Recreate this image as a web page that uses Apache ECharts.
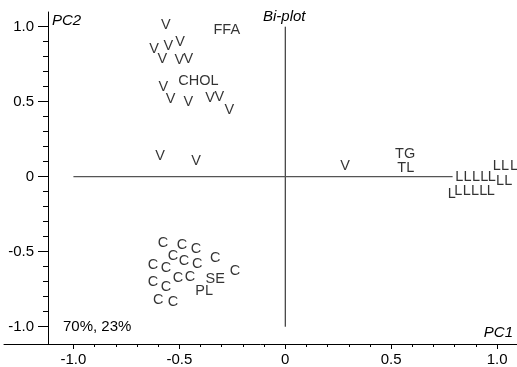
<!DOCTYPE html>
<html>
<head>
<meta charset="utf-8">
<script src="https://cdn.jsdelivr.net/npm/echarts@6/dist/echarts.min.js"></script>
<style>
  html, body { margin: 0; padding: 0; background: #fff; }
  #chart { width: 517px; height: 367px; }
</style>
</head>
<body>
<div id="chart"></div>
<script>
// Sample scores (PC1, PC2), labelled by group letter
const vScores = [
  [-0.564, 1.011], [-0.619, 0.849], [-0.552, 0.871], [-0.497, 0.900],
  [-0.580, 0.783], [-0.500, 0.778], [-0.458, 0.783],
  [-0.576, 0.596], [-0.541, 0.516], [-0.458, 0.500], [-0.355, 0.523],
  [-0.311, 0.529], [-0.264, 0.445],
  [-0.591, 0.140], [-0.421, 0.105], [0.283, 0.073]
];
const cScores = [
  [-0.577, -0.442], [-0.487, -0.455], [-0.421, -0.482],
  [-0.530, -0.529], [-0.624, -0.589], [-0.563, -0.609], [-0.478, -0.562],
  [-0.416, -0.582], [-0.331, -0.542],
  [-0.624, -0.702], [-0.563, -0.735], [-0.506, -0.675], [-0.450, -0.669],
  [-0.237, -0.629],
  [-0.600, -0.822], [-0.530, -0.835]
];
const lScores = [
  [0.822, -0.005], [0.860, -0.005], [0.901, -0.005], [0.939, -0.005], [0.975, -0.005],
  [0.999, 0.073], [1.038, 0.073], [1.080, 0.073],
  [1.014, -0.029], [1.053, -0.029],
  [0.786, -0.115],
  [0.817, -0.093], [0.857, -0.093], [0.896, -0.093], [0.935, -0.093], [0.970, -0.093]
];

// Variable loadings
const variableNames = ['FFA', 'CHOL', 'TG', 'TL', 'SE', 'PL'];
const variableLoadings = [
  [-0.276, 0.978], [-0.410, 0.640], [0.566, 0.151],
  [0.569, 0.056], [-0.331, -0.682], [-0.383, -0.762]
];

// Reference cross through the origin
const verticalRef = [[0, -1], [0, 1]];
const horizontalRef = [[-1, 0], [0.79, 0]];

// Tick values
const majorTicks = [-1, -0.5, 0, 0.5, 1];
const minorTicks = [-0.9, -0.8, -0.7, -0.6, -0.4, -0.3, -0.2, -0.1,
                    0.1, 0.2, 0.3, 0.4, 0.6, 0.7, 0.8, 0.9];

const FONT = '"Liberation Sans", Arial, Helvetica, sans-serif';
const fmt = v => (Math.abs(v) < 1e-9 ? '0' : v.toFixed(1));

function labelSeries(name, points, texts) {
  return {
    type: 'scatter',
    name: name,
    symbolSize: 0,
    silent: true,
    clip: false,
    data: points.map((p, i) => ({ value: p, name: texts ? texts[i] : name })),
    label: {
      show: true,
      position: 'inside',
      formatter: p => p.name,
      color: '#000',
      fontFamily: FONT,
      fontSize: 14.5
    },
    z: 5
  };
}

const chart = echarts.init(document.getElementById('chart'), null, { renderer: 'canvas' });

const xAxisBase = {
  type: 'value', min: -1.3277, max: 1.094,
  position: 'bottom',
  splitLine: { show: false }
};
const yAxisBase = {
  type: 'value', min: -1.115, max: 1.098,
  position: 'left',
  offset: -44,
  splitLine: { show: false }
};

chart.setOption({
  animation: false,
  backgroundColor: '#fff',
  grid: { left: 4, right: 0, top: 12, bottom: 23 },
  xAxis: [
    Object.assign({}, xAxisBase, {
      axisLine: { onZero: false, lineStyle: { color: '#000', width: 1 } },
      axisTick: { show: true, length: 5, lineStyle: { color: '#000' }, customValues: majorTicks },
      axisLabel: { show: true, customValues: majorTicks, formatter: fmt, color: '#000',
                   fontFamily: FONT, fontSize: 15, margin: 8 }
    }),
    Object.assign({}, xAxisBase, {
      axisLine: { show: false, onZero: false },
      axisTick: { show: true, length: 3, lineStyle: { color: '#000' }, customValues: minorTicks },
      axisLabel: { show: false }
    })
  ],
  yAxis: [
    Object.assign({}, yAxisBase, {
      axisLine: { onZero: false, lineStyle: { color: '#000', width: 1 } },
      axisTick: { show: true, length: 10, lineStyle: { color: '#000' }, customValues: majorTicks },
      axisLabel: { show: true, customValues: majorTicks, formatter: fmt, color: '#000',
                   fontFamily: FONT, fontSize: 15, margin: 14 }
    }),
    Object.assign({}, yAxisBase, {
      axisLine: { show: false, onZero: false },
      axisTick: { show: true, length: 5, lineStyle: { color: '#000' }, customValues: minorTicks },
      axisLabel: { show: false }
    })
  ],
  graphic: [
    { type: 'text', left: 263, top: 9,
      style: { text: 'Bi-plot', font: 'italic 15px ' + FONT, fill: '#000' } },
    { type: 'text', left: 52, top: 13,
      style: { text: 'PC2', font: 'italic 15px ' + FONT, fill: '#000' } },
    { type: 'text', right: 4, top: 325,
      style: { text: 'PC1', font: 'italic 15px ' + FONT, fill: '#000' } },
    { type: 'text', left: 63, top: 319,
      style: { text: '70%, 23%', font: '15px ' + FONT, fill: '#000' } }
  ],
  series: [
    {
      type: 'line', data: verticalRef, symbol: 'none', silent: true,
      lineStyle: { color: '#111', width: 1 }, z: 1
    },
    {
      type: 'line', data: horizontalRef, symbol: 'none', silent: true,
      lineStyle: { color: '#555', width: 1.2 }, z: 1
    },
    labelSeries('V', vScores),
    labelSeries('C', cScores),
    labelSeries('L', lScores),
    labelSeries('loadings', variableLoadings, variableNames)
  ]
});
</script>
</body>
</html>
